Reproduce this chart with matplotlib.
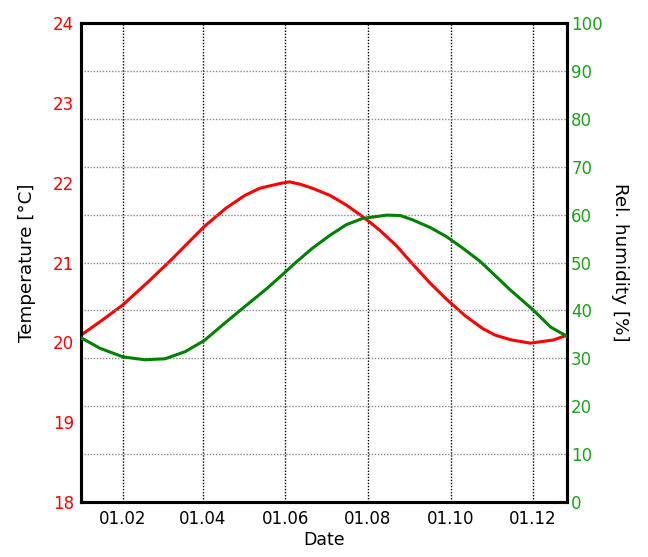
import matplotlib
matplotlib.use("Agg")
import matplotlib.pyplot as plt
import matplotlib.dates as mdates
import numpy as np

# values
temp_dates = ["2021-01-01", "2021-01-16", "2021-02-01", "2021-02-21", "2021-03-09",
              "2021-04-02", "2021-04-18", "2021-05-02", "2021-05-13", "2021-05-28",
              "2021-06-04", "2021-06-12", "2021-06-21", "2021-07-04", "2021-07-16",
              "2021-07-26", "2021-08-02", "2021-08-10", "2021-08-22", "2021-09-03",
              "2021-09-16", "2021-09-28", "2021-10-12", "2021-10-25", "2021-11-03",
              "2021-11-15", "2021-11-29", "2021-12-16", "2021-12-26"]
temp_values = [20.09, 20.27, 20.47, 20.78, 21.04,
               21.45, 21.68, 21.84, 21.93, 21.99,
               22.01, 21.98, 21.93, 21.84, 21.72,
               21.60, 21.51, 21.40, 21.21, 20.98,
               20.74, 20.54, 20.33, 20.17, 20.09,
               20.03, 19.99, 20.03, 20.09]

hum_dates = ["2021-01-01", "2021-01-15", "2021-02-01", "2021-02-17", "2021-03-04",
             "2021-03-19", "2021-04-02", "2021-04-17", "2021-05-02", "2021-05-18",
             "2021-05-28", "2021-06-09", "2021-06-21", "2021-07-04", "2021-07-16",
             "2021-07-28", "2021-08-15", "2021-08-25", "2021-09-03", "2021-09-16",
             "2021-09-28", "2021-10-10", "2021-10-23", "2021-11-14", "2021-12-01",
             "2021-12-14", "2021-12-26"]
hum_values = [34.3, 32.1, 30.3, 29.7, 29.9,
              31.4, 33.7, 37.3, 40.8, 44.5,
              47.0, 50.1, 53.0, 55.7, 57.9,
              59.2, 59.9, 59.8, 58.9, 57.3,
              55.4, 53.0, 50.2, 44.3, 40.1,
              36.5, 34.6]

date_ticks = ["2021-02-01", "2021-04-01", "2021-06-01", "2021-08-01", "2021-10-01", "2021-12-01"]
x_range = ["2021-01-01", "2021-12-26"]
temp_ticks = [18, 19, 20, 21, 22, 23, 24]
hum_ticks = [0, 10, 20, 30, 40, 50, 60, 70, 80, 90, 100]

red = "#ff0000"
green = "#008000"
green_txt = "#1f9f1f"

fig = plt.figure(figsize=(6.48, 5.57), dpi=100)
ax = fig.add_axes([0.125, 0.0987, 0.75, 0.86])
ax2 = ax.twinx()

ax.plot(np.array(temp_dates, dtype="datetime64[D]"), temp_values, color=red, lw=2.2, zorder=3)
ax2.plot(np.array(hum_dates, dtype="datetime64[D]"), hum_values, color=green, lw=2.2, zorder=3)

ax.set_xlim(np.array(x_range, dtype="datetime64[D]"))
ax.set_ylim(18, 24)
ax2.set_ylim(0, 100)

ax.set_xticks(np.array(date_ticks, dtype="datetime64[D]"))
ax.xaxis.set_major_formatter(mdates.DateFormatter("%d.%m"))
ax.set_yticks(temp_ticks)
ax2.set_yticks(hum_ticks)

ax.tick_params(axis="x", length=0, pad=6, labelsize=12)
ax.tick_params(axis="y", length=0, pad=5, labelsize=12, labelcolor=red)
ax2.tick_params(axis="y", length=0, pad=3, labelsize=12, labelcolor=green_txt)

# grid: vertical from dates (black dots), horizontal from humidity (grey dots)
ax.grid(axis="x", color="black", linestyle=(0, (1, 1.2)), lw=1.0)
ax2.grid(axis="y", color="#888888", linestyle=(0, (1, 1.2)), lw=1.0)
ax.set_axisbelow(True)
ax2.set_axisbelow(True)

for a in (ax, ax2):
    for s in a.spines.values():
        s.set_linewidth(2.2)
        s.set_color("black")

ax.set_xlabel("Date", fontsize=12.5, labelpad=2)
ax.set_ylabel("Temperature [°C]", fontsize=13.2, labelpad=12)
ax2.set_ylabel("Rel. humidity [%]", fontsize=13.2, rotation=270, labelpad=19)

fig.savefig("out.png", dpi=100)
